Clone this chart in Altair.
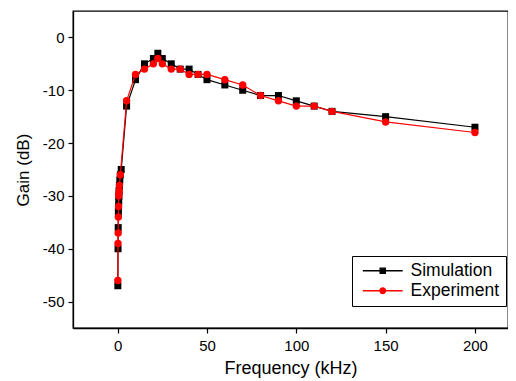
import altair as alt
import pandas as pd

sim_freq = [0.1, 0.2, 0.3, 0.4, 0.5, 0.6, 0.7, 0.8, 1.0, 1.2, 1.5, 2.0,
            5, 10, 15, 20, 22.5, 25, 30, 35, 40, 45, 50, 60, 70, 80, 90, 100, 110, 120, 150, 200]
sim_gain = [-47, -40, -36, -33, -32, -31, -30, -29, -28, -27, -26, -25,
            -13, -8, -5, -4, -3, -4, -5, -6, -6, -7, -8, -9, -10, -11, -11, -12, -13, -14, -15, -17]

exp_freq = [0.1, 0.2, 0.3, 0.4, 0.5, 0.6, 0.7, 0.8, 1.0, 1.5,
            5, 10, 15, 20, 22.5, 25, 30, 35, 40, 45, 50, 60, 70, 80, 90, 100, 110, 120, 150, 200]
exp_gain = [-46, -39, -37, -34, -32, -30, -29.6, -29, -28, -26,
            -12, -7, -6, -5, -4, -5, -6, -6, -7, -7, -7, -8, -9, -11, -12, -13, -13, -14, -16, -18]

series_names = ["Simulation", "Experiment"]
series_colors = ["#000000", "#ff0000"]
legend_shapes = [
    "M-5.7,0H5.7M-0.75,-0.75H0.75V0.75H-0.75Z",
    "M-5.7,0H5.7M-0.8,0A0.8,0.8,0,1,1,0.8,0A0.8,0.8,0,1,1,-0.8,0Z",
]

x_ticks = [0, 50, 100, 150, 200]
y_ticks = [-50, -40, -30, -20, -10, 0]

sim = pd.DataFrame({"f": sim_freq, "g": sim_gain, "series": "Simulation"})
exp = pd.DataFrame({"f": exp_freq, "g": exp_gain, "series": "Experiment"})
both = pd.concat([sim, exp], ignore_index=True)

X = alt.X("f:Q", scale=alt.Scale(domain=[-25, 218.5], nice=False, zero=False),
          axis=alt.Axis(values=x_ticks, title="Frequency (kHz)", labelExpr="'' + datum.value",
                        titlePadding=6, titleFontSize=18, labelPadding=5))
Y = alt.Y("g:Q", scale=alt.Scale(domain=[-55, 5], nice=False, zero=False),
          axis=alt.Axis(values=y_ticks, title="Gain (dB)", labelExpr="'' + datum.value",
                        titlePadding=10, titleFontSize=17))

sim_line = alt.Chart(sim).mark_line(color="#000000", strokeWidth=1.2).encode(x=X, y=Y)
sim_pts = alt.Chart(sim).mark_point(shape="square", filled=True, color="#000000",
                                    size=49, opacity=1).encode(x=X, y=Y)
exp_line = alt.Chart(exp).mark_line(color="#ff0000", strokeWidth=1.2).encode(x=X, y=Y)
exp_pts = alt.Chart(exp).mark_point(shape="circle", filled=True, color="#ff0000",
                                    size=55, opacity=1).encode(x=X, y=Y)

legend_layer = alt.Chart(both).mark_point(filled=False, strokeWidth=1.3, opacity=1).encode(
    x=X, y=Y,
    stroke=alt.Stroke("series:N", scale=alt.Scale(domain=series_names, range=series_colors),
                      sort=series_names,
                      legend=alt.Legend(title=None, orient="none", legendX=279, legendY=245,
                                        strokeColor="#000000", fillColor="#ffffff",
                                        padding=6, symbolSize=49, symbolOffset=16,
                                        labelOffset=19, labelFontSize=17.5, rowPadding=1,
                                        symbolStrokeWidth=1.3)),
    fill=alt.Fill("series:N", scale=alt.Scale(domain=series_names, range=series_colors),
                  sort=series_names),
    shape=alt.Shape("series:N", scale=alt.Scale(domain=series_names, range=legend_shapes),
                    sort=series_names),
).transform_filter("false")

chart = alt.layer(sim_line, sim_pts, exp_line, exp_pts, legend_layer).properties(
    width=435, height=317,
    autosize=alt.AutoSizeParams(type="none"),
    padding={"left": 65, "top": 3, "right": 0, "bottom": 50},
).configure_view(
    stroke="#000000", strokeWidth=1.3
).configure_axis(
    grid=False, domainColor="#000000", domainWidth=1.3, tickColor="#000000",
    tickSize=5, tickWidth=1.2, labelFontSize=15, titleFontWeight="normal",
    labelFont="Liberation Sans", titleFont="Liberation Sans", labelColor="#000000",
    titleColor="#000000", labelPadding=4
).configure_legend(
    labelFont="Liberation Sans", labelColor="#000000"
)

chart.save("out.html", embed_options={"renderer": "svg", "actions": False})
